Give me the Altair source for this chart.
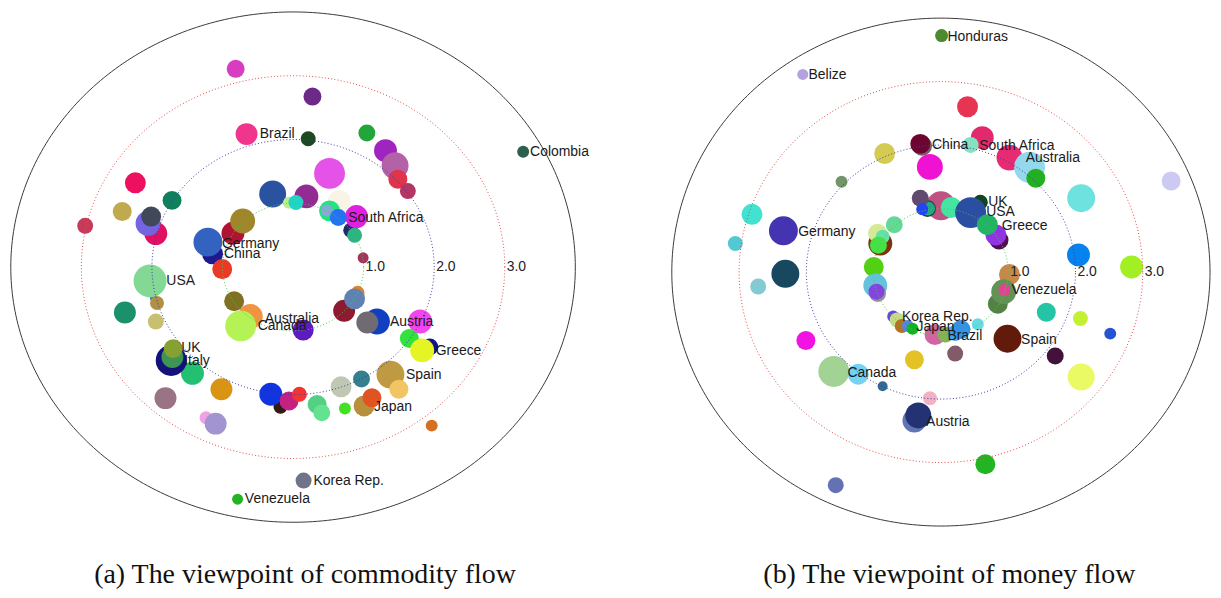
import altair as alt
import numpy as np
import pandas as pd

# ---------------- Panel (a): commodity flow ----------------
A_X = [-0.813, 0.275, -0.659, 0.215, 1.046, 1.310, 1.446, 1.485, 1.627, 3.261,
       0.517, -0.289, 0.189, -0.058, 0.041, 0.654, 0.517, 0.477, 0.817, 0.872,
       0.899, 0.641, 0.993, -0.852, -0.714, -1.141, -1.207, -1.004, -1.972, -2.027,
       -1.928, -1.945, -2.383, -2.235, -2.421, -1.715, -1.945, -2.055, -2.011, -2.946,
       -0.835, -0.606, -0.742, 0.144, 0.915, 0.724, 0.872, 1.189, 1.052, 1.801,
       1.648, 1.937, 1.830, 1.380, 1.500, 0.970, 0.680, 1.007, 1.118, 0.735,
       0.341, 0.407, -0.179, -0.315, -0.058, 0.090, -1.015, -1.425, -1.727, -1.710,
       -1.699, -1.808, -1.234, -1.097, 1.965, 0.149, -0.786]
A_Y = [3.109, 2.674, 2.085, 2.011, 2.102, 1.826, 1.588, 1.377, 1.192, 1.809,
       1.469, 1.146, 1.109, 1.008, 1.014, 1.029, 0.882, 0.886, 0.578, 0.500,
       0.792, 0.777, 0.146, 0.531, 0.722, 0.208, 0.392, -0.031, -0.482, -0.217,
       -0.562, -0.854, -0.711, 1.322, 0.871, 1.046, 0.526, 0.685, 0.792, 0.648,
       -0.535, -0.774, -0.922, -0.986, -0.403, -0.685, -0.498, -0.854, -0.869, -0.854,
       -1.118, -1.251, -1.305, -1.685, -1.915, -1.755, -1.877, -2.177, -2.048, -2.217,
       -2.152, -2.285, -2.191, -1.992, -2.100, -1.992, -1.915, -1.665, -1.463, -1.408,
       -1.278, -2.054, -2.362, -2.454, -2.485, -3.346, -3.638]
A_D = [18, 18, 22, 15, 17, 23, 27, 19, 16, 12,
       31, 27, 24, 12, 15, 23, 21, 12, 15, 15,
       23, 17, 11, 23, 25, 21, 29, 20, 8, 33,
       14, 16, 22, 21, 19, 19, 23, 25, 20, 16,
       20, 25, 31, 21, 14, 22, 21, 26, 22, 24,
       19, 17, 24, 28, 19, 17, 21, 21, 19, 12,
       19, 17, 14, 23, 19, 15, 22, 23, 31, 22,
       19, 22, 13, 22, 12, 16, 11]
A_C = ["#d83cc0", "#6c2a88", "#f0358c", "#1c4a1e", "#22a63a", "#a024c0", "#b462a8", "#e0344c", "#b43664", "#2e5e4c",
       "#e452e8", "#2a52a0", "#922c92", "#b8f08a", "#22d4c4", "#f8f4e6", "#22e282", "#86aad8", "#1e2c6c", "#2eb482",
       "#e020e0", "#2474f0", "#a2345e", "#b01232", "#a0862a", "#1e1a8e", "#3462c0", "#e83a24", "#3474c0", "#84d896",
       "#b09044", "#c8c070", "#1c906a", "#ee1060", "#c0aa50", "#10805c", "#e01062", "#7464e2", "#40485a", "#c83a5a",
       "#807022", "#f09442", "#b4f256", "#5e1cc0", "#e08232", "#8e1a32", "#6082b2", "#1040c0", "#706a72", "#f444f0",
       "#34e23e", "#12128e", "#e4f424", "#c09a42", "#f2c464", "#34808e", "#c0c8b4", "#b8903c", "#e05424", "#44e024",
       "#54d084", "#64e290", "#301a12", "#1234e0", "#c42282", "#f23434", "#d89412", "#22c070", "#12127a", "#3e9452",
       "#86a032", "#9a7484", "#f2a2e4", "#a294d0", "#d47020", "#707488", "#22b422"]
A_LABELS = ["Brazil", "Colombia", "South Africa", "Germany", "China", "USA", "Australia", "Canada",
            "Austria", "Greece", "Spain", "Japan", "UK", "Italy", "Korea Rep.", "Venezuela"]
A_LX = [-0.472, 3.359, 0.782, -1.007, -0.979, -1.796, -0.401, -0.500,
        1.373, 2.021, 1.599, 1.148, -1.585, -1.542, 0.289, -0.683]
A_LY = [2.085, 1.808, 0.777, 0.362, 0.208, -0.223, -0.808, -0.931,
        -0.854, -1.315, -1.685, -2.192, -1.269, -1.469, -3.346, -3.638]

# ---------------- Panel (b): money flow ----------------
B_X = [0.010, -2.053, 0.396, 0.615, 0.442, -0.280, -0.307, -0.836, -0.164, 1.019,
       1.318, 1.411, -1.477, 2.085, 3.422, -2.808, -2.341, -3.056, -2.312, -2.716,
       2.045, 2.834, 0.000, -0.200, -0.192, -0.307, -0.278, 0.154, 0.586, 0.442,
       0.864, 0.817, 0.690, -0.693, -0.901, -0.941, -0.866, -0.929, -0.998, -0.975,
       -0.941, -0.958, 1.019, 0.846, 0.933, 0.944, 1.567, 2.074, 2.517, 0.990,
       1.699, 2.085, -2.007, -1.592, -1.229, -0.866, -0.163, -0.394, 0.212, -0.394,
       -0.336, 0.661, -1.563, -0.709, -0.651, -0.582, -0.491, -0.422, -0.088, 0.068,
       0.212, 0.298, 0.548]
B_Y = [3.725, 3.113, 2.604, 2.117, 2.003, 1.990, 2.019, 1.868, 1.657, 1.803,
       1.651, 1.478, 1.424, 1.164, 1.435, 0.910, 0.650, 0.449, -0.027, -0.227,
       0.271, 0.081, 1.045, 1.000, 1.002, 1.164, 0.991, 1.018, 1.099, 0.937,
       0.504, 0.585, 0.747, 0.747, 0.449, 0.612, 0.558, 0.422, 0.081, -0.211,
       -0.336, -0.309, -0.038, -0.498, -0.309, -0.282, -0.633, -0.731, -0.969, -1.050,
       -1.321, -1.651, -1.077, -1.565, -1.608, -1.798, -1.987, -1.381, -1.283, -2.339,
       -2.258, -3.027, -3.357, -0.698, -0.753, -0.850, -0.850, -0.893, -0.985, -0.985,
       -0.958, -0.904, -0.823]
B_D = [13, 11, 21, 23, 16, 20, 20, 21, 26, 26,
       31, 19, 12, 28, 19, 21, 29, 15, 28, 16,
       23, 23, 29, 17, 14, 17, 12, 21, 15, 31,
       19, 21, 21, 17, 24, 19, 14, 17, 20, 24,
       17, 16, 21, 20, 25, 12, 19, 15, 12, 28,
       17, 27, 19, 31, 21, 10, 14, 19, 16, 24,
       26, 20, 16, 12, 15, 14, 12, 12, 21, 16,
       16, 19, 12]
B_C = ["#4a8a30", "#b4a2e0", "#e63452", "#e02a6c", "#84e2c2", "#706262", "#6e0430", "#d4cc52", "#f012d2", "#e82a72",
       "#94d8ee", "#22b022", "#74946a", "#6ee2de", "#cccaf2", "#42e2d0", "#4434b2", "#54c8d2", "#184860", "#84cad2",
       "#0682ee", "#a2f024", "#c05282", "#203c3c", "#22a882", "#604a70", "#2244f2", "#44e4a2", "#124422", "#2a4ea2",
       "#50104e", "#9234e4", "#22b464", "#64d896", "#80320e", "#d4ea96", "#62e2a4", "#44e244", "#54d012", "#64c2da",
       "#949494", "#8444e2", "#c48a4a", "#528244", "#629254", "#e24494", "#24c4a4", "#c4f034", "#2454d2", "#621a0a",
       "#42123a", "#eafa64", "#f212e2", "#a2d294", "#74d2f2", "#326a92", "#f2b2c4", "#e2c224", "#825a6a", "#6274b4",
       "#223272", "#22b422", "#6472b4", "#6444e2", "#c4da84", "#b47224", "#5484e2", "#12b222", "#d264a4", "#84b254",
       "#44a2f2", "#3492e2", "#64dae2"]
B_LABELS = ["Honduras", "Belize", "China", "South Africa", "Australia", "UK", "USA", "Germany",
            "Greece", "Venezuela", "Korea Rep.", "Japan", "Brazil", "Spain", "Canada", "Austria"]
B_LX = [0.097, -1.967, -0.134, 0.570, 1.261, 0.702, 0.673, -2.122,
        0.904, 1.048, -0.578, -0.364, 0.097, 1.192, -1.390, -0.220]
B_LY = [3.709, 3.102, 2.003, 1.992, 1.792, 1.110, 0.948, 0.639,
        0.720, -0.282, -0.715, -0.861, -1.012, -1.067, -1.592, -2.355]

RING_RADII = [1, 2, 3]
RING_LABELS = ["1.0", "2.0", "3.0"]
RING_COLORS = ["#4cc44c", "#3a3aa2", "#e04a4a"]
OUTER_RADIUS = 4

LABEL_FONT = "Liberation Sans"
CAPTION_FONT = "Liberation Serif"


def ring_frame(radii):
    t = np.linspace(0, 2 * np.pi, 361)
    rows = []
    for r in radii:
        for k, a in enumerate(t):
            rows.append({"ring": str(r), "k": k, "x": r * np.cos(a), "y": r * np.sin(a)})
    return pd.DataFrame(rows)


def panel(xs, ys, ds, cs, labels, lxs, lys, xdom, ydom, width, height, caption, cap_dx):
    xsc = alt.Scale(domain=xdom, nice=False, zero=False)
    ysc = alt.Scale(domain=ydom, nice=False, zero=False)
    X = lambda f: alt.X(f, type="quantitative", scale=xsc, axis=None)
    Y = lambda f: alt.Y(f, type="quantitative", scale=ysc, axis=None)

    bub = pd.DataFrame({"i": range(len(xs)), "x": xs, "y": ys, "d": ds, "c": cs})
    bubbles = alt.Chart(bub).mark_circle(opacity=1).encode(
        x=X("x"), y=Y("y"),
        size=alt.Size("d:Q", scale=alt.Scale(type="pow", exponent=2, domain=[0, 40], range=[0, 1600]), legend=None),
        color=alt.Color("c:N", scale=None),
        order=alt.Order("i:Q"),
    )

    rings = alt.Chart(ring_frame(RING_RADII)).mark_line(strokeDash=[1, 2.2], strokeWidth=1).encode(
        x=X("x"), y=Y("y"), detail="ring:N", order="k:Q",
        color=alt.Color("ring:N", scale=alt.Scale(domain=[str(r) for r in RING_RADII], range=RING_COLORS), legend=None),
    )
    outer = alt.Chart(ring_frame([OUTER_RADIUS])).mark_line(strokeWidth=1, color="#3a3a3a").encode(
        x=X("x"), y=Y("y"), order="k:Q",
    )
    rl = pd.DataFrame({"x": RING_RADII, "y": [0] * len(RING_RADII), "t": RING_LABELS})
    ring_text = alt.Chart(rl).mark_text(align="left", baseline="middle", dx=2, fontSize=14,
                                        font=LABEL_FONT, color="#222222").encode(
        x=X("x"), y=Y("y"), text="t:N")

    lab = pd.DataFrame({"x": lxs, "y": lys, "t": labels})
    texts = alt.Chart(lab).mark_text(align="left", baseline="middle", fontSize=14,
                                     font=LABEL_FONT, color="#1a1a1a").encode(
        x=X("x"), y=Y("y"), text="t:N")

    return alt.layer(bubbles, outer, rings, ring_text, texts).properties(
        width=width, height=height,
        title=alt.TitleParams(caption, orient="bottom", anchor="middle", font=CAPTION_FONT,
                              fontSize=28, fontWeight="normal", color="#111111",
                              baseline="top", offset=32, dx=cap_dx),
    )


pa = panel(A_X, A_Y, A_D, A_C, A_LABELS, A_LX, A_LY,
           [-4.0113, 4.3503], [-4.1094, 4.0156], 592, 520,
           "(a) The viewpoint of commodity flow", 0)
pb = panel(B_X, B_Y, B_D, B_C, B_LABELS, B_LX, B_LY,
           [-4.8889, 4.0148], [-4.0503, 4.1130], 601, 520,
           "(b) The viewpoint of money flow", 38)

chart = alt.hconcat(pa, pb, spacing=12).properties(
    padding={"left": 0, "top": 0, "right": 0, "bottom": 0}
).configure_view(stroke=None)

chart.save("out.html", embed_options={"renderer": "svg", "actions": False})
